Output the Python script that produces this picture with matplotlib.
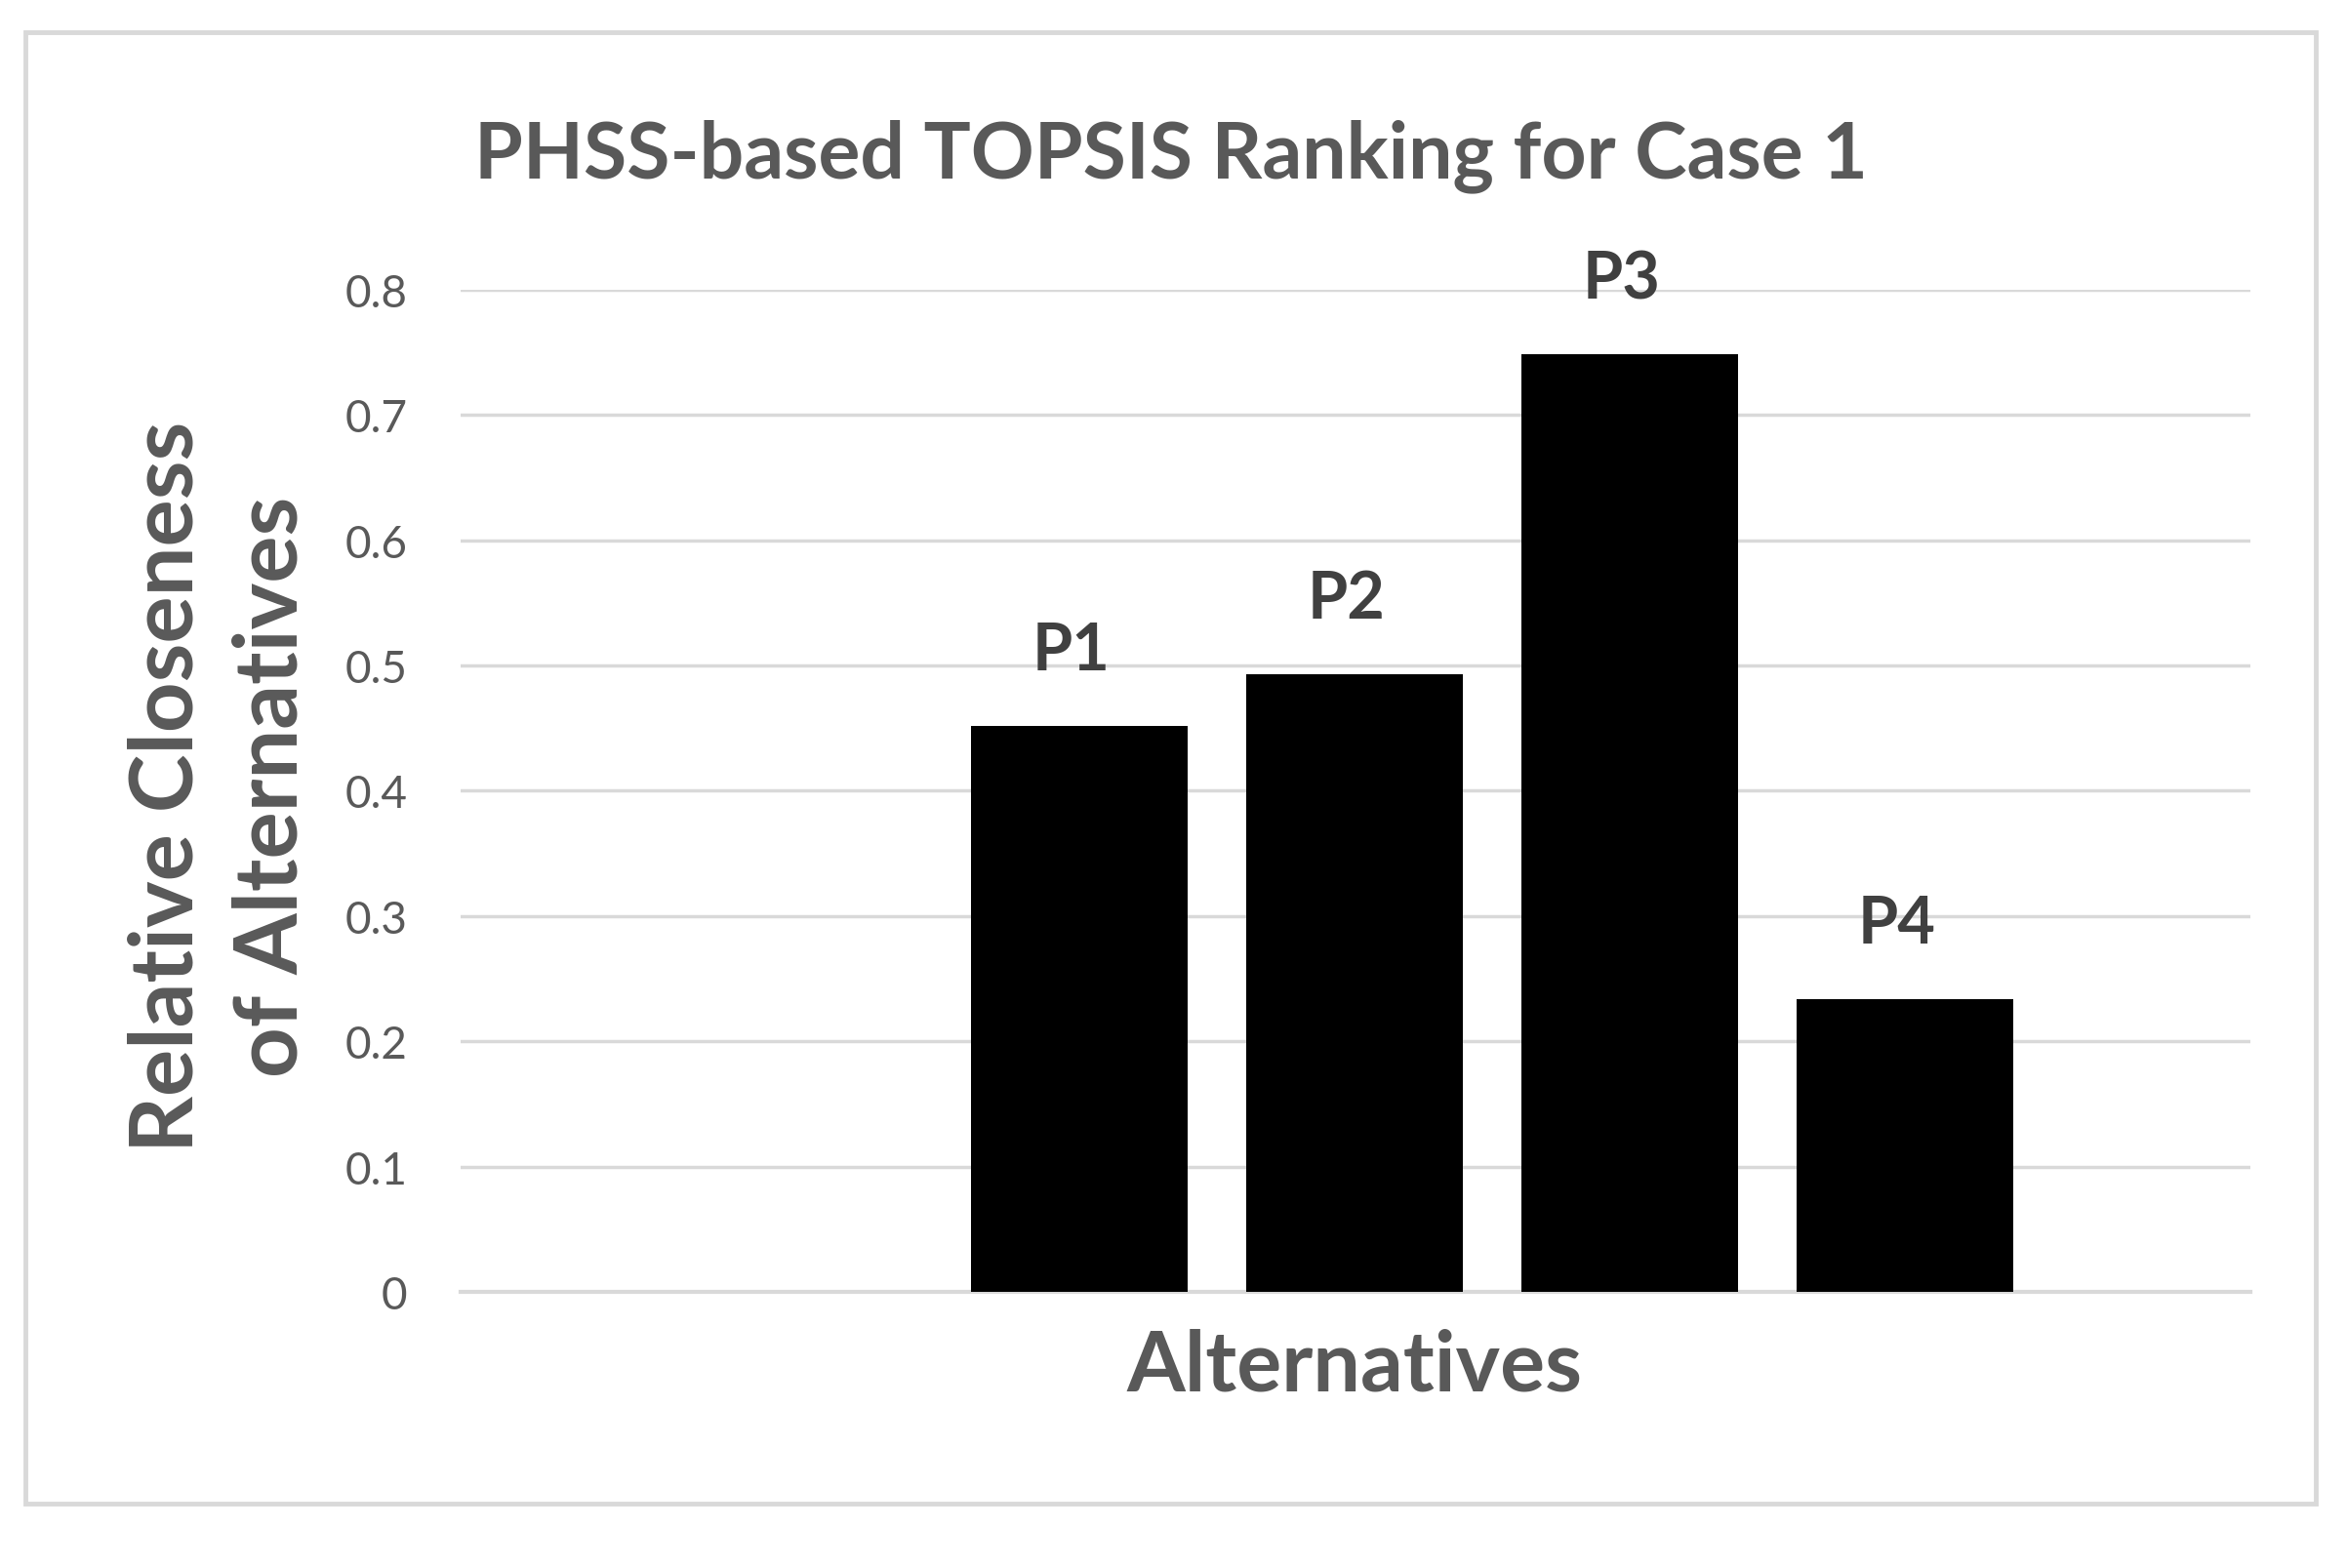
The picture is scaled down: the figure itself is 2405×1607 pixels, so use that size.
import matplotlib
matplotlib.use("Agg")
import matplotlib.pyplot as plt
from matplotlib.patches import Rectangle

# data
alternatives = ["P1", "P2", "P3", "P4"]
closeness = [0.452, 0.493, 0.748, 0.234]
y_ticks = [0.0, 0.1, 0.2, 0.3, 0.4, 0.5, 0.6, 0.7, 0.8]
y_tick_labels = ["0", "0.1", "0.2", "0.3", "0.4", "0.5", "0.6", "0.7", "0.8"]

TEXT_GRAY = "#595959"
LABEL_DARK = "#404040"
GRID_GRAY = "#d9d9d9"

plt.rcParams["font.family"] = ["Lato", "DejaVu Sans"]

W, H = 2405, 1608
fig = plt.figure(figsize=(W / 100, H / 100), dpi=100)
fig.patch.set_facecolor("white")

# chart-area border
fig.patches.append(Rectangle((26 / W, 1 - 1542 / H), (2373 - 26) / W, (1542 - 34) / H,
                             transform=fig.transFigure, fill=False,
                             edgecolor=GRID_GRAY, linewidth=3.5))

ax = fig.add_axes([471.7 / W, 1 - 1325 / H, (2306 - 471.7) / W, (1325 - 297.7) / H])

x = list(range(len(alternatives)))
bars = ax.bar(x, closeness, width=0.787, color="black", zorder=3)
ax.set_xlim(-2.25, 3 + 1.255)
ax.set_ylim(0, 0.8)

for rect, name in zip(bars, alternatives):
    ax.annotate(name, (rect.get_x() + rect.get_width() / 2 - 0.03, rect.get_height()),
                xytext=(0, 33), textcoords="offset points", ha="center", va="bottom",
                fontsize=48, fontweight="bold", color=LABEL_DARK)

ax.set_yticks(y_ticks)
ax.set_yticklabels(y_tick_labels)
ax.set_xticks([])
ax.tick_params(axis="y", length=0, pad=39, labelsize=33, labelcolor=TEXT_GRAY)
ax.yaxis.grid(True, color=GRID_GRAY, linewidth=2.5, zorder=0)
for side in ["top", "right", "left"]:
    ax.spines[side].set_visible(False)
ax.spines["bottom"].set_color(GRID_GRAY)
ax.spines["bottom"].set_linewidth(3)

fig.text(1200 / W, 1 - 160 / H, "PHSS-based TOPSIS Ranking for Case 1",
         ha="center", va="center", fontsize=58, fontweight="bold", color=TEXT_GRAY)
fig.text(1388 / W, 1 - 1401 / H, "Alternatives", ha="center", va="center",
         fontsize=62, fontweight="bold", color=TEXT_GRAY)
fig.text(225 / W, 1 - 806 / H, "Relative Closeness\nof Alternatives", ha="center", va="center",
         rotation=90, fontsize=65, fontweight="bold", color=TEXT_GRAY, linespacing=1.38)

fig.savefig("out.png", dpi=100, facecolor="white")
